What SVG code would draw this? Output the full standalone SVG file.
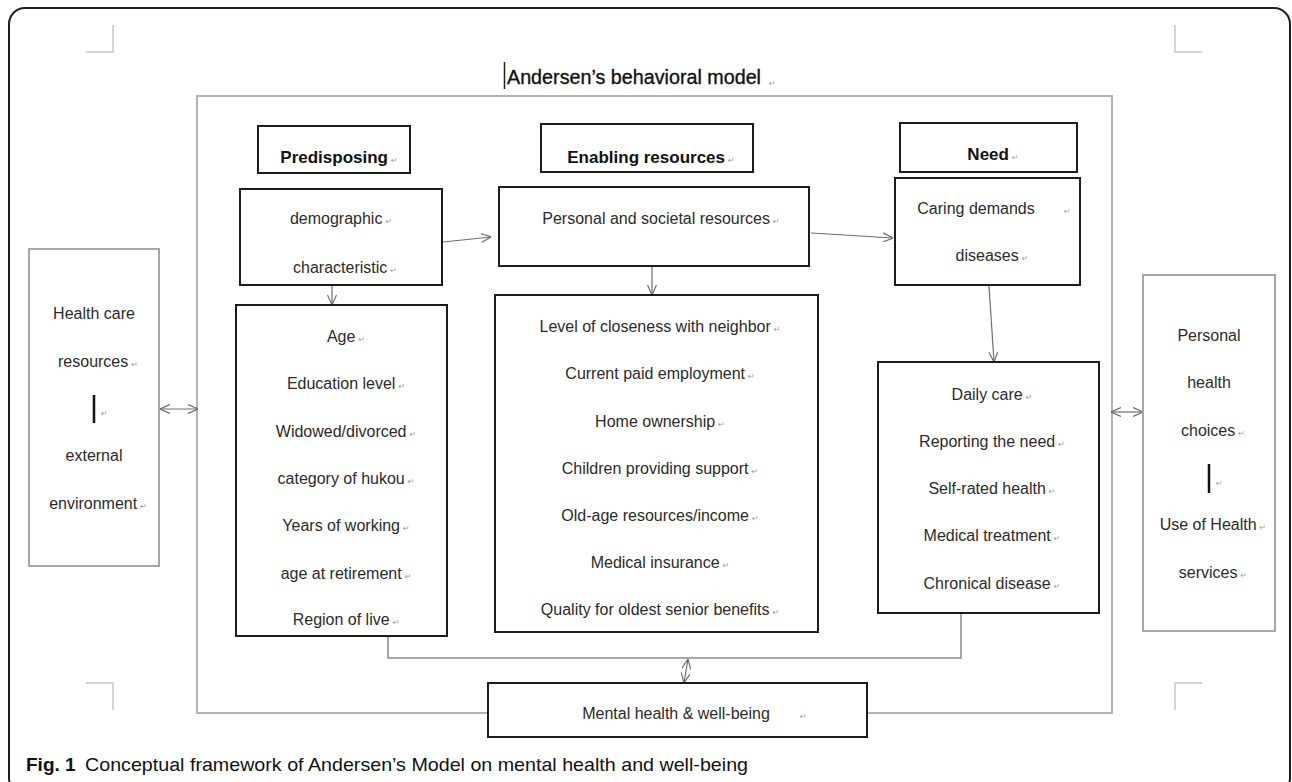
<svg xmlns="http://www.w3.org/2000/svg" width="1292" height="782" viewBox="0 0 1292 782">
  <style>
    .box { fill: #ffffff; stroke: #1c1c1c; stroke-width: 2; }
    .frame { fill: none; stroke: #b3b3b3; stroke-width: 2; }
    .side { fill: #ffffff; stroke: #a6a6a6; stroke-width: 2; }
    .mark { fill: none; stroke: #c8c8c8; stroke-width: 1.5; }
    .conn { fill: none; stroke: #6e6e6e; stroke-width: 1.2; }
    .link { fill: none; stroke: #8a8a8a; stroke-width: 1.5; }
    .bar { stroke: #111111; stroke-width: 2.5; }
    text { font-family: "Liberation Sans", Arial, sans-serif; }
    .lbl { font-size: 16px; fill: #2b2b2b; text-anchor: middle; }
    .hdr { font-size: 17px; font-weight: bold; fill: #111111; text-anchor: middle; }
    .rm { font-size: 8px; fill: #9a9a9a; font-family: "DejaVu Sans", sans-serif; }
  </style>
  <defs>
    <marker id="arr" viewBox="0 0 10 10" refX="10" refY="5" markerWidth="10" markerHeight="10" markerUnits="userSpaceOnUse" orient="auto-start-reverse">
      <path d="M0,0.5 L10,5 L0,9.5" fill="none" stroke="#6e6e6e" stroke-width="1.2"/>
    </marker>
  </defs>

  <!-- page frame -->
  <rect x="9" y="8" width="1281" height="786" rx="16" fill="#ffffff" stroke="#1e1e1e" stroke-width="2"/>

  <!-- crop marks -->
  <path class="mark" d="M113,25 V52 H86"/>
  <path class="mark" d="M1175,25 V52 H1202"/>
  <path class="mark" d="M86,683 H113 V710"/>
  <path class="mark" d="M1202,683 H1175 V710"/>

  <!-- title -->
  <line x1="504.5" y1="62" x2="504.5" y2="89" stroke="#222" stroke-width="1.5"/>
  <text x="507" y="84" font-size="20.5" fill="#111" stroke="#111" stroke-width="0.35" textLength="254" lengthAdjust="spacingAndGlyphs">Andersen’s behavioral model</text>
  <text class="rm" x="769" y="86">↵</text>

  <!-- model frame (bottom edge interrupted by the outcome box) -->
  <path class="frame" d="M488,713 H197 V96 H1112 V713 H867"/>

  <!-- connectors -->
  <g id="connectors">
    <line class="conn" x1="443" y1="242" x2="491" y2="237" marker-end="url(#arr)"/>
    <line class="conn" x1="811" y1="233" x2="893" y2="238" marker-end="url(#arr)"/>
    <line class="conn" x1="332" y1="286" x2="332" y2="305" marker-end="url(#arr)"/>
    <line class="conn" x1="652" y1="267" x2="652" y2="295" marker-end="url(#arr)"/>
    <line class="conn" x1="989" y1="286" x2="994" y2="362" marker-end="url(#arr)"/>
    <line class="conn" x1="160" y1="409" x2="198" y2="409" marker-start="url(#arr)" marker-end="url(#arr)"/>
    <line class="conn" x1="1111" y1="412" x2="1143" y2="412" marker-start="url(#arr)" marker-end="url(#arr)"/>
    <path class="link" d="M388,637 V658 H961 V614"/>
    <line class="conn" x1="688" y1="659" x2="684" y2="683" marker-start="url(#arr)" marker-end="url(#arr)"/>
  </g>

  <!-- external side: health care resources -->
  <g id="health-care-resources">
    <rect class="side" x="29" y="249" width="130" height="317"/>
    <text class="lbl" x="94" y="319">Health care</text>
    <text class="lbl" x="98" y="367">resources<tspan class="rm" dx="3">↵</tspan></text>
    <line class="bar" x1="94" y1="395" x2="94" y2="423"/>
    <text class="rm" x="101" y="416">↵</text>
    <text class="lbl" x="94" y="461">external</text>
    <text class="lbl" x="98" y="509">environment<tspan class="rm" dx="3">↵</tspan></text>
  </g>

  <!-- predisposing column -->
  <g id="predisposing-header">
    <rect class="box" x="258" y="126" width="152" height="47"/>
    <text class="hdr" x="339" y="163">Predisposing<tspan class="rm" dx="3" font-weight="normal">↵</tspan></text>
  </g>
  <g id="demographic">
    <rect class="box" x="240" y="189" width="202" height="96"/>
    <text class="lbl" x="341" y="224">demographic<tspan class="rm" dx="3">↵</tspan></text>
    <text class="lbl" x="345" y="273">characteristic<tspan class="rm" dx="3">↵</tspan></text>
  </g>
  <g id="predisposing-items">
    <rect class="box" x="236" y="305" width="211" height="331"/>
    <text class="lbl" x="346" y="342">Age<tspan class="rm" dx="3">↵</tspan></text>
    <text class="lbl" x="346" y="389">Education level<tspan class="rm" dx="3">↵</tspan></text>
    <text class="lbl" x="346" y="437">Widowed/divorced<tspan class="rm" dx="3">↵</tspan></text>
    <text class="lbl" x="346" y="484">category of hukou<tspan class="rm" dx="3">↵</tspan></text>
    <text class="lbl" x="346" y="531">Years of working<tspan class="rm" dx="3">↵</tspan></text>
    <text class="lbl" x="346" y="579">age at retirement<tspan class="rm" dx="3">↵</tspan></text>
    <text class="lbl" x="346" y="625">Region of live<tspan class="rm" dx="3">↵</tspan></text>
  </g>

  <!-- enabling column -->
  <g id="enabling-header">
    <rect class="box" x="541" y="124" width="212" height="48"/>
    <text class="hdr" x="651" y="163">Enabling resources<tspan class="rm" dx="3" font-weight="normal">↵</tspan></text>
  </g>
  <g id="personal-societal">
    <rect class="box" x="499" y="187" width="310" height="79"/>
    <text class="lbl" x="661" y="224">Personal and societal resources<tspan class="rm" dx="3">↵</tspan></text>
  </g>
  <g id="enabling-items">
    <rect class="box" x="495" y="295" width="323" height="337"/>
    <text class="lbl" x="660" y="332">Level of closeness with neighbor<tspan class="rm" dx="3">↵</tspan></text>
    <text class="lbl" x="660" y="379">Current paid employment<tspan class="rm" dx="3">↵</tspan></text>
    <text class="lbl" x="660" y="427">Home ownership<tspan class="rm" dx="3">↵</tspan></text>
    <text class="lbl" x="660" y="474">Children providing support<tspan class="rm" dx="3">↵</tspan></text>
    <text class="lbl" x="660" y="521">Old-age resources/income<tspan class="rm" dx="3">↵</tspan></text>
    <text class="lbl" x="660" y="568">Medical insurance<tspan class="rm" dx="3">↵</tspan></text>
    <text class="lbl" x="660" y="615">Quality for oldest senior benefits<tspan class="rm" dx="3">↵</tspan></text>
  </g>

  <!-- need column -->
  <g id="need-header">
    <rect class="box" x="900" y="123" width="177" height="49"/>
    <text class="hdr" x="993" y="160">Need<tspan class="rm" dx="3" font-weight="normal">↵</tspan></text>
  </g>
  <g id="caring-demands">
    <rect class="box" x="895" y="178" width="185" height="107"/>
    <text class="lbl" x="976" y="214">Caring demands</text>
    <text class="rm" x="1064" y="214">↵</text>
    <text class="lbl" x="992" y="261">diseases<tspan class="rm" dx="3">↵</tspan></text>
  </g>
  <g id="need-items">
    <rect class="box" x="878" y="362" width="221" height="251"/>
    <text class="lbl" x="992" y="400">Daily care<tspan class="rm" dx="3">↵</tspan></text>
    <text class="lbl" x="992" y="447">Reporting the need<tspan class="rm" dx="3">↵</tspan></text>
    <text class="lbl" x="992" y="494">Self-rated health<tspan class="rm" dx="3">↵</tspan></text>
    <text class="lbl" x="992" y="541">Medical treatment<tspan class="rm" dx="3">↵</tspan></text>
    <text class="lbl" x="992" y="589">Chronical disease<tspan class="rm" dx="3">↵</tspan></text>
  </g>

  <!-- external side: personal health choices -->
  <g id="personal-health-choices">
    <rect class="side" x="1143" y="275" width="132" height="356"/>
    <text class="lbl" x="1209" y="341">Personal</text>
    <text class="lbl" x="1209" y="388">health</text>
    <text class="lbl" x="1213" y="436">choices<tspan class="rm" dx="3">↵</tspan></text>
    <line class="bar" x1="1209" y1="464" x2="1209" y2="493"/>
    <text class="rm" x="1216" y="486">↵</text>
    <text class="lbl" x="1213" y="530">Use of Health<tspan class="rm" dx="3">↵</tspan></text>
    <text class="lbl" x="1213" y="578">services<tspan class="rm" dx="3">↵</tspan></text>
  </g>

  <!-- outcome -->
  <g id="mental-health">
    <rect class="box" x="488" y="683" width="379" height="54"/>
    <text class="lbl" x="676" y="719">Mental health &amp; well-being</text>
    <text class="rm" x="800" y="719">↵</text>
  </g>

  <!-- caption -->
  <text x="26" y="771" font-size="19" fill="#111"><tspan font-weight="bold">Fig. 1</tspan><tspan x="85" textLength="663" lengthAdjust="spacingAndGlyphs">Conceptual framework of Andersen’s Model on mental health and well-being</tspan></text>
</svg>
